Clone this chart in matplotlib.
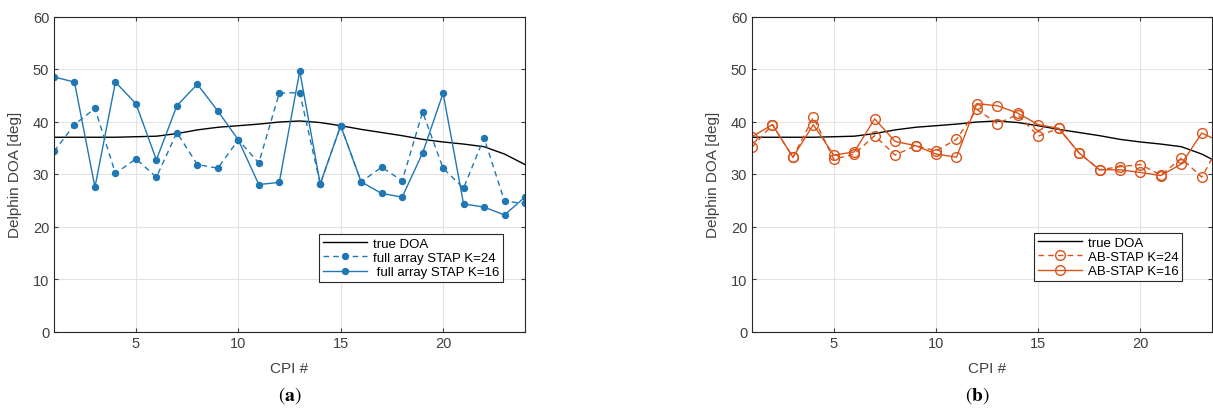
import numpy as np
import matplotlib
matplotlib.use("Agg")
import matplotlib.pyplot as plt

plt.rcParams['font.family'] = ['Liberation Sans', 'DejaVu Sans']

# data
cpi = np.arange(1, 25)
true_doa = [37.0, 37.0, 37.0, 37.0, 37.1, 37.2, 37.7, 38.4, 38.9, 39.2, 39.5, 39.9,
            40.1, 39.8, 39.2, 38.5, 37.9, 37.3, 36.6, 36.1, 35.7, 35.2, 33.8, 31.8]
full_k24 = [34.3, 39.4, 42.5, 30.1, 32.9, 29.4, 37.9, 31.8, 31.1, 36.5, 32.1, 45.4,
            45.5, 28.1, 39.2, 28.5, 31.3, 28.7, 41.8, 31.1, 27.3, 36.9, 24.8, 24.4]
full_k16 = [48.5, 47.5, 27.5, 47.5, 43.4, 32.7, 43.0, 47.1, 42.0, 36.5, 28.0, 28.4,
            49.6, 28.1, 39.2, 28.5, 26.3, 25.6, 34.0, 45.4, 24.3, 23.7, 22.2, 25.6]
ab_k24 = [35.1, 39.4, 33.2, 40.8, 32.8, 33.8, 37.3, 33.6, 35.4, 34.4, 36.6, 42.3,
          39.6, 41.3, 37.2, 38.7, 34.0, 30.8, 31.4, 31.8, 29.8, 33.0, 29.4, 36.5]
ab_k16 = [37.1, 39.4, 33.2, 39.4, 33.6, 34.2, 40.5, 36.2, 35.4, 33.8, 33.2, 43.4,
          43.0, 41.6, 39.4, 38.7, 34.0, 30.8, 30.8, 30.3, 29.7, 31.9, 37.8, 36.0]

blue = '#1f77b4'
orange = '#D95319'
txt = '#404040'
W, H = 1213, 410

fig = plt.figure(figsize=(W / 100, H / 100), dpi=100)
ax1 = fig.add_axes([54 / W, 1 - 332.5 / H, 471 / W, 315 / H])
ax2 = fig.add_axes([752 / W, 1 - 332.5 / H, 460 / W, 315 / H])

ax1.plot(cpi, true_doa, color='black', lw=1, label='true DOA')
ax1.plot(cpi, full_k24, color=blue, lw=1, ls=(0, (4, 3)), marker='o', ms=4.3,
         label='full array STAP K=24')
ax1.plot(cpi, full_k16, color=blue, lw=1, marker='o', ms=4.3,
         label=' full array STAP K=16')

ax2.plot(cpi, true_doa, color='black', lw=1, label='true DOA')
ax2.plot(cpi, ab_k24, color=orange, lw=1, ls=(0, (4, 3)), marker='o', ms=7,
         mfc='none', label='AB-STAP K=24')
ax2.plot(cpi, ab_k16, color=orange, lw=1, marker='o', ms=7, mfc='none',
         label='AB-STAP K=16')

ax1.set_xlim(1, 24)
ax2.set_xlim(1, 23.5)
for ax in (ax1, ax2):
    ax.set_ylim(0, 60)
    ax.set_xticks([5, 10, 15, 20])
    ax.set_yticks(range(0, 61, 10))
    ax.grid(True, color='#e3e3e3', lw=0.8)
    ax.set_axisbelow(True)
    ax.tick_params(direction='in', top=True, right=True, labelsize=10.5,
                   colors=txt, length=3)
    for s in ax.spines.values():
        s.set_color('#262626')
        s.set_linewidth(0.8)
    ax.set_ylabel('Delphin DOA [deg]', fontsize=11, color=txt)
    ax.set_xlabel('CPI #', fontsize=11, color=txt)
    ax.yaxis.set_label_coords(-0.068, 0.5)

ax1.xaxis.set_label_coords(0.5, -0.095)
ax2.xaxis.set_label_coords((987 - 752) / 460, -0.095)
ax2.yaxis.set_label_coords(-0.07, 0.5)

leg_kw = dict(loc='upper left', fontsize=9.5, handlelength=3.4, fancybox=False,
              framealpha=1, edgecolor='#262626', borderpad=0.3, labelspacing=0.15,
              handletextpad=0.4)
l1 = ax1.legend(bbox_to_anchor=(312 / W, 1 - 228 / H), bbox_transform=fig.transFigure, **leg_kw)
l2 = ax2.legend(bbox_to_anchor=(1027 / W, 1 - 227 / H), bbox_transform=fig.transFigure, **leg_kw)
for l in (l1, l2):
    l.get_frame().set_linewidth(0.8)

fig.text(290 / W, 1 - 396 / H, r'($\mathbf{a}$)', ha='center', va='center',
         fontsize=14, family='STIXGeneral', math_fontfamily='stix')
fig.text(977 / W, 1 - 396 / H, r'($\mathbf{b}$)', ha='center', va='center',
         fontsize=14, family='STIXGeneral', math_fontfamily='stix')

fig.savefig('out.png', dpi=100)
